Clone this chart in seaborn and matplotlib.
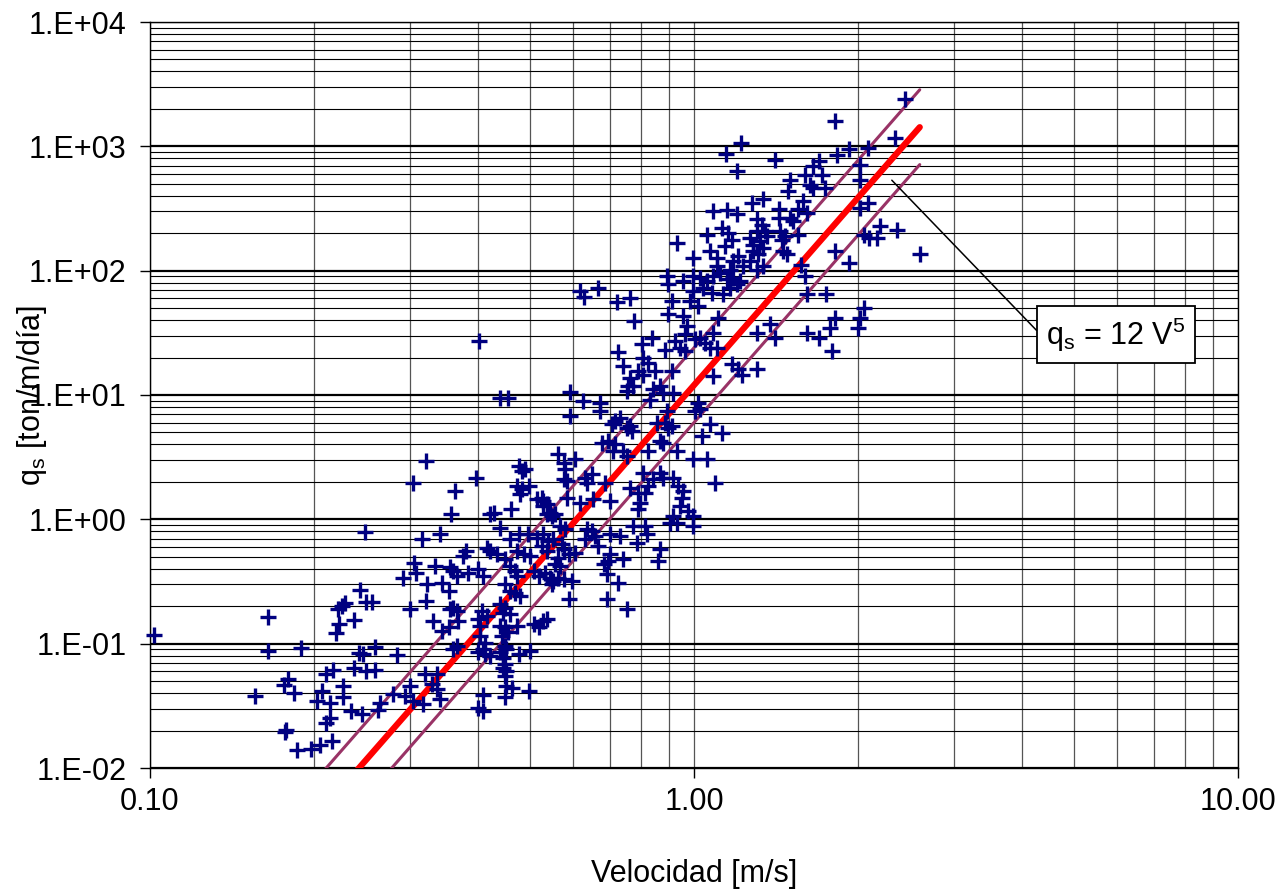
import numpy as np
import pandas as pd
import matplotlib
matplotlib.use("Agg")
import matplotlib.pyplot as plt
import matplotlib.ticker as mticker
import seaborn as sns

# Datos: velocidad [m/s] y caudal solido qs [ton/m/dia]
# zona baja izquierda
vel_a = [0.1015, 0.165, 0.165, 0.1895, 0.156, 0.179, 0.176, 0.184, 0.177, 0.178,
         0.186, 0.198, 0.205, 0.216, 0.211, 0.214, 0.203, 0.207, 0.214, 0.226,
         0.226, 0.234, 0.245, 0.263, 0.265, 0.28, 0.211, 0.217, 0.237, 0.249,
         0.259, 0.242, 0.246, 0.259, 0.284, 0.22, 0.223, 0.222, 0.225, 0.228,
         0.237, 0.243, 0.25, 0.256, 0.248]
qs_a = [0.117, 0.164, 0.0873, 0.093, 0.038, 0.0524, 0.0463, 0.0404, 0.0195, 0.0201,
        0.0139, 0.0143, 0.0152, 0.0165, 0.0232, 0.0254, 0.0346, 0.0417, 0.0336, 0.0457,
        0.0369, 0.0288, 0.0274, 0.0292, 0.0336, 0.0392, 0.0575, 0.0615, 0.0643, 0.0604,
        0.0613, 0.0848, 0.082, 0.0948, 0.0807, 0.121, 0.145, 0.189, 0.201, 0.214,
        0.154, 0.269, 0.216, 0.216, 0.796]

# zona 0.3 - 0.55 m/s
vel_b = [0.3216, 0.304, 0.398, 0.363, 0.357, 0.476, 0.483, 0.49, 0.472, 0.482,
         0.498, 0.479, 0.525, 0.528, 0.461, 0.428, 0.422, 0.536, 0.44, 0.341,
         0.316, 0.459, 0.476, 0.496, 0.514, 0.528, 0.54, 0.381, 0.376, 0.416,
         0.422, 0.434, 0.449, 0.472, 0.486, 0.5, 0.525, 0.536, 0.306, 0.308,
         0.292, 0.334, 0.356, 0.361, 0.366, 0.385, 0.401, 0.41, 0.459, 0.469,
         0.472, 0.507, 0.518, 0.532, 0.544, 0.323, 0.321, 0.344, 0.354, 0.449,
         0.459, 0.469, 0.479, 0.3, 0.332, 0.356, 0.361, 0.366, 0.344, 0.354,
         0.369, 0.408, 0.416, 0.401, 0.404, 0.44, 0.449, 0.446, 0.459, 0.44,
         0.449, 0.455, 0.443, 0.472, 0.507, 0.518, 0.528, 0.536, 0.361, 0.366,
         0.404, 0.413, 0.41, 0.401, 0.413, 0.422, 0.44, 0.446, 0.449, 0.452,
         0.449, 0.446, 0.452, 0.476, 0.5, 0.449, 0.452, 0.449, 0.462, 0.497,
         0.32, 0.337, 0.33, 0.3, 0.294, 0.337, 0.341, 0.305, 0.318, 0.41,
         0.401, 0.41, 0.514, 0.528, 0.536, 0.548]
qs_b = [2.94, 1.97, 2.16, 1.69, 1.11, 2.68, 2.44, 2.52, 1.85, 1.74,
        1.85, 1.59, 1.49, 1.28, 1.2, 1.13, 1.1, 1.1, 0.857, 0.758,
        0.69, 0.69, 0.758, 0.758, 0.71, 0.758, 0.67, 0.556, 0.507, 0.592,
        0.556, 0.523, 0.477, 0.556, 0.523, 0.507, 0.61, 0.556, 0.449, 0.373,
        0.34, 0.421, 0.41, 0.385, 0.35, 0.373, 0.397, 0.35, 0.421, 0.385,
        0.35, 0.385, 0.35, 0.373, 0.34, 0.3, 0.22, 0.31, 0.266, 0.3,
        0.266, 0.257, 0.242, 0.189, 0.152, 0.189, 0.195, 0.183, 0.127, 0.135,
        0.152, 0.183, 0.167, 0.158, 0.139, 0.207, 0.195, 0.178, 0.172, 0.139,
        0.135, 0.123, 0.115, 0.139, 0.144, 0.135, 0.152, 0.158, 0.09, 0.096,
        0.115, 0.102, 0.09, 0.085, 0.082, 0.08, 0.085, 0.077, 0.096, 0.09,
        0.0685, 0.064, 0.06, 0.082, 0.087, 0.055, 0.046, 0.037, 0.0443, 0.0417,
        0.0567, 0.0567, 0.0472, 0.046, 0.038, 0.0431, 0.0359, 0.0346, 0.0326, 0.039,
        0.0305, 0.0288, 1.45, 1.4, 1.32, 1.06]

# zona 0.55 - 0.8 m/s
vel_c = [0.626, 0.672, 0.672, 0.592, 0.706, 0.716, 0.731, 0.752, 0.768, 0.763,
         0.677, 0.696, 0.716, 0.711, 0.752, 0.742, 0.563, 0.576, 0.58, 0.604,
         0.576, 0.583, 0.631, 0.635, 0.649, 0.686, 0.583, 0.617, 0.653, 0.701,
         0.763, 0.79, 0.79, 0.774, 0.785, 0.866, 0.86, 0.544, 0.555, 0.567,
         0.58, 0.551, 0.571, 0.635, 0.649, 0.658, 0.631, 0.667, 0.701, 0.731,
         0.576, 0.588, 0.604, 0.563, 0.555, 0.567, 0.701, 0.696, 0.742, 0.682,
         0.691, 0.563, 0.576, 0.597, 0.548, 0.551, 0.726, 0.588, 0.691, 0.752]
qs_c = [8.93, 8.67, 7.42, 6.77, 5.8, 6.17, 6.57, 5.46, 5.13, 5.62,
        4.14, 4.26, 4.0, 3.54, 3.23, 3.54, 3.33, 2.86, 2.52, 3.04,
        2.1, 2.03, 2.16, 1.97, 2.3, 1.97, 1.49, 1.36, 1.45, 1.4,
        1.8, 1.64, 1.2, 0.88, 0.65, 0.574, 0.462, 1.13, 1.1, 0.88,
        0.83, 0.69, 0.63, 0.83, 0.81, 0.73, 0.69, 0.61, 0.758, 0.73,
        0.574, 0.523, 0.54, 0.49, 0.435, 0.421, 0.523, 0.462, 0.477, 0.435,
        0.36, 0.34, 0.33, 0.32, 0.3, 0.32, 0.31, 0.228, 0.228, 0.191]

# puntos sueltos 0.4 - 0.82 m/s con qs alto
vel_d = [0.403, 0.44, 0.456, 0.617, 0.628, 0.667, 0.723, 0.763, 0.776, 0.726,
         0.742, 0.763, 0.757, 0.752, 0.774, 0.807, 0.824, 0.79, 0.807, 0.802,
         0.592]
qs_d = [27.1, 9.51, 9.51, 68.4, 61.7, 71.9, 55.8, 60.6, 39.3, 22.1,
        17.1, 13.8, 11.8, 10.7, 11.8, 19.95, 18.2, 15.6, 14.6, 25.5,
        10.55]

# zona alta derecha
vel_e = [2.44, 1.82, 2.34, 1.93, 1.83, 2.09, 1.218, 1.145, 1.2, 1.41,
         1.694, 1.657, 1.716, 1.6, 1.634, 1.5, 1.49, 1.74, 1.657, 2.02,
         2.02, 2.09, 2.02, 1.34, 1.276, 1.588, 1.555, 1.61, 1.43, 1.43,
         1.5, 1.52, 1.085, 1.148, 1.198, 1.304, 1.331, 1.35, 1.304, 1.268,
         1.322, 1.286, 1.34, 1.286, 1.313, 1.36, 1.438, 1.47, 1.45, 1.555,
         1.46, 1.48, 1.124, 1.157, 1.173, 1.055, 0.929, 0.997, 1.07, 1.1,
         1.14, 1.18, 1.206, 1.1, 1.165, 1.232, 1.268, 1.304, 1.34, 0.891,
         0.897, 0.956, 0.997, 1.026, 1.055, 1.085, 1.116, 1.148, 1.18, 1.215,
         0.997, 1.04, 1.078, 1.132, 1.165, 1.198, 0.91, 0.983, 1.018, 0.897,
         0.956, 0.97, 0.963, 1.108, 1.085, 1.026, 1.047, 1.07, 1.1, 1.004,
         0.923, 0.943, 0.884, 0.963, 0.836, 0.848, 0.91, 1.085, 1.173, 1.206,
         1.223, 1.304, 1.304, 1.38, 1.41, 1.61, 1.7, 1.78, 1.79, 1.82,
         1.75, 1.61, 1.6, 1.575, 1.82, 1.93, 2.05, 2.02, 2.0, 2.05,
         2.1, 2.17, 2.2, 2.36, 2.6]
qs_e = [2423, 1592, 1170, 960, 848, 973, 1067, 871, 631, 783,
        769, 692, 593, 593, 493, 541, 441, 464, 464, 714,
        541, 352, 320, 374, 352, 362, 311, 292, 311, 266,
        266, 250, 301, 305, 283, 258, 235, 208, 208, 184,
        173, 162, 153, 144, 135, 189, 208, 189, 178, 195,
        144, 135, 221, 202, 178, 195, 168, 127, 144, 127,
        157, 119, 131, 109, 102, 109, 119, 102, 109, 90.3,
        77.4, 82.4, 90.3, 87.7, 82.4, 90.3, 96.2, 85, 87.7, 82.4,
        68.4, 72.9, 66.4, 64.4, 72.9, 77.4, 56.9, 56.9, 51.9, 44.5,
        43.1, 35.8, 30.7, 41.8, 31.7, 28.9, 26.3, 24, 24, 28,
        27.1, 24, 23.2, 22.5, 28.9, 15.6, 15.6, 14.2, 17.6, 16.1,
        14.6, 16.1, 31.7, 37, 28.9, 31.7, 28.9, 34.8, 22.5, 41.8,
        64.4, 64.4, 90.3, 112, 144, 116, 50.3, 41.8, 34.8, 195,
        184, 184, 228, 214, 135]

# zona 0.8 - 1.1 m/s
vel_f = [0.842, 0.866, 0.878, 0.916, 0.83, 1.018, 1.004, 1.026, 0.891, 0.884,
         0.854, 0.897, 0.91, 1.07, 1.124, 1.033, 0.866, 0.878, 0.824, 0.929,
         0.997, 1.055, 0.807, 0.866, 0.878, 0.842, 0.916, 0.824, 0.813, 0.796,
         1.093, 0.936, 0.956, 0.949, 0.943, 0.976, 0.997, 0.916, 0.903, 0.929,
         0.813, 0.818, 0.997]
qs_f = [11.1, 11.8, 10.4, 10.4, 9.2, 8.67, 7.42, 7.65, 7.42, 5.97,
        5.97, 5.46, 5.62, 5.8, 4.97, 4.67, 4.26, 4.14, 3.54, 3.54,
        3.04, 3.04, 2.37, 2.37, 2.16, 2.1, 2.16, 1.85, 1.64, 1.36,
        1.97, 1.85, 1.69, 1.49, 1.28, 1.17, 1.06, 1.06, 0.94, 0.94,
        0.88, 0.76, 0.88]

# rectas qs = c V^5 (ajuste y envolventes x2 y /2)
vel_recta = [0.2, 2.6]
coef_ajuste = 12
coef_sup = 24
coef_inf = 6

df = pd.DataFrame({
    "V": vel_a + vel_b + vel_c + vel_d + vel_e + vel_f,
    "qs": qs_a + qs_b + qs_c + qs_d + qs_e + qs_f,
})

sns.set_style("white")
plt.rcParams["font.family"] = ["Liberation Sans", "DejaVu Sans"]
plt.rcParams["mathtext.fontset"] = "custom"
plt.rcParams["mathtext.rm"] = "Liberation Sans"
plt.rcParams["mathtext.default"] = "regular"
plt.rcParams["text.color"] = "black"
plt.rcParams["axes.labelcolor"] = "black"
plt.rcParams["xtick.color"] = "black"
plt.rcParams["ytick.color"] = "black"

fig = plt.figure(figsize=(12.79, 8.91), dpi=100)
ax = fig.add_axes([150 / 1279, 123 / 891, 1088 / 1279, 746 / 891])

ax.set_xscale("log")
ax.set_yscale("log")
ax.set_xlim(0.1, 10)
ax.set_ylim(0.01, 1e4)

# grilla
ax.set_axisbelow(True)
ax.yaxis.grid(True, which="major", color="black", lw=1.6)
ax.yaxis.grid(True, which="minor", color="black", lw=0.8)
ax.xaxis.grid(True, which="major", color="#555555", lw=0.9)
ax.xaxis.grid(True, which="minor", color="#555555", lw=0.9)

vr = np.array(vel_recta)
sns.lineplot(x=vr, y=coef_sup * vr ** 5, color="#993366", lw=2.2, ax=ax, zorder=3)
sns.lineplot(x=vr, y=coef_inf * vr ** 5, color="#993366", lw=2.2, ax=ax, zorder=3)
sns.lineplot(x=vr, y=coef_ajuste * vr ** 5, color="red", lw=4.5, ax=ax, zorder=4)

sns.scatterplot(data=df, x="V", y="qs", marker="+", s=140, color="#000080",
                linewidth=2.4, ax=ax, zorder=5)
for c in ax.collections:
    c.set_clip_on(False)

ax.xaxis.set_major_locator(mticker.FixedLocator([0.1, 1, 10]))
ax.xaxis.set_major_formatter(mticker.FuncFormatter(lambda v, p: f"{v:.2f}"))
ax.xaxis.set_minor_locator(mticker.LogLocator(base=10, subs=np.arange(2, 10)))
ax.xaxis.set_minor_formatter(mticker.NullFormatter())
ax.yaxis.set_major_locator(mticker.LogLocator(base=10, numticks=10))
ax.yaxis.set_major_formatter(mticker.FuncFormatter(
    lambda v, p: "1.E{:+03d}".format(int(round(np.log10(v))))))
ax.yaxis.set_minor_locator(mticker.LogLocator(base=10, subs=np.arange(2, 10), numticks=20))
ax.yaxis.set_minor_formatter(mticker.NullFormatter())

ax.tick_params(which="major", direction="out", length=7, width=1, color="black",
               labelsize=22, pad=7, left=True, bottom=True)
ax.tick_params(axis="y", which="major", pad=10)
ax.tick_params(which="minor", length=0)

for s in ax.spines.values():
    s.set_color("black")
    s.set_linewidth(1)

ax.set_xlabel("Velocidad [m/s]", fontsize=22, labelpad=30)
ax.set_ylabel(r"q$_\mathrm{s}$ [ton/m/día]", fontsize=22)
ax.yaxis.set_label_coords(-0.093, 0.5)

ax.annotate(r"q$_\mathrm{s}$ = 12 V$^5$", xy=(2.31, 534), xytext=(5.97, 30.7),
            fontsize=22, ha="center", va="center",
            bbox=dict(boxstyle="square,pad=0.3", fc="white", ec="black", lw=1.3),
            arrowprops=dict(arrowstyle="-", color="black", lw=1.1,
                            relpos=(0, 0.34), shrinkA=0, shrinkB=0),
            zorder=6)

fig.savefig("out.png", dpi=100)
